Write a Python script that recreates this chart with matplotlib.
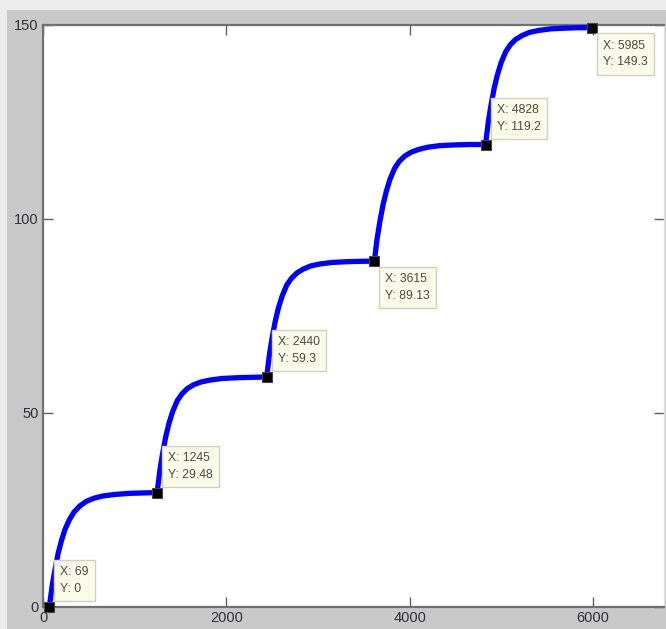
import matplotlib
matplotlib.use("Agg")
import matplotlib.pyplot as plt
from matplotlib.patches import Rectangle

# Cumulative response: five smooth steps, one per segment
step1_x = [69, 100, 130, 165, 200, 240, 290, 340, 400, 470, 550, 650, 780, 950, 1100, 1245]
step1_y = [0, 5.5, 9.5, 13.8, 17.0, 20.0, 22.6, 24.5, 26.0, 27.2, 28.0, 28.6, 29.0, 29.3, 29.4, 29.48]

step2_x = [1245, 1275, 1305, 1340, 1375, 1415, 1465, 1515, 1575, 1645, 1725, 1825, 1955, 2125, 2280, 2440]
step2_y = [29.48, 35.2, 39.6, 44.0, 47.4, 50.4, 53.2, 54.9, 56.3, 57.3, 58.0, 58.5, 58.9, 59.1, 59.2, 59.3]

step3_x = [2440, 2470, 2500, 2535, 2570, 2610, 2660, 2710, 2770, 2840, 2920, 3020, 3150, 3320, 3470, 3615]
step3_y = [59.3, 65.0, 69.4, 73.8, 77.2, 80.2, 83.0, 84.7, 86.1, 87.1, 87.9, 88.4, 88.8, 89.0, 89.1, 89.13]

step4_x = [3615, 3645, 3675, 3710, 3745, 3785, 3835, 3885, 3945, 4015, 4095, 4195, 4325, 4495, 4660, 4828]
step4_y = [89.13, 94.9, 99.3, 103.7, 107.1, 110.2, 113.0, 114.8, 116.2, 117.2, 117.9, 118.5, 118.9, 119.1, 119.2, 119.2]

step5_x = [4828, 4858, 4888, 4923, 4958, 4998, 5048, 5098, 5158, 5228, 5308, 5408, 5538, 5708, 5850, 5985]
step5_y = [119.2, 125.0, 129.4, 133.8, 137.2, 140.3, 143.1, 144.9, 146.3, 147.3, 148.1, 148.6, 149.0, 149.2, 149.3, 149.3]

# Data tips
tip_x = [69, 1245, 2440, 3615, 4828, 5985]
tip_y = [0, 29.48, 59.3, 89.13, 119.2, 149.3]
tip_labels_y = ["0", "29.48", "59.3", "89.13", "119.2", "149.3"]
tip_below = [False, False, False, True, False, True]

x_ticks = [0, 2000, 4000, 6000]
y_ticks = [0, 50, 100, 150]

fig = plt.figure(figsize=(6.66, 6.29), dpi=100, facecolor="#ececec")
# grey window background
fig.patches.append(Rectangle((7 / 666, 0), 1, 1 - 10 / 629, transform=fig.transFigure,
                             facecolor="#c9c9c9", edgecolor="none", zorder=-10))

ax = fig.add_axes([43 / 666, 22 / 629, 621 / 666, 582 / 629])
ax.set_zorder(1)
ax.set_facecolor("white")

xs = step1_x + step2_x[1:] + step3_x[1:] + step4_x[1:] + step5_x[1:]
ys = step1_y + step2_y[1:] + step3_y[1:] + step4_y[1:] + step5_y[1:]
ax.plot(xs, ys, color="#0000ff", lw=3.8, solid_capstyle="round", zorder=3)

ax.plot(tip_x, tip_y, linestyle="none", marker="s", markersize=7.5,
        markerfacecolor="black", markeredgecolor="#444444", markeredgewidth=0.8,
        zorder=5, clip_on=False)

for x, y, ylab, below in zip(tip_x, tip_y, tip_labels_y, tip_below):
    label = f"X: {x}\nY: {ylab}"
    if below:
        off, va = (8, -8.5), "top"
    else:
        off, va = (8, 8.5), "bottom"
    ax.annotate(label, (x, y), xytext=off, textcoords="offset points",
                ha="left", va=va, fontsize=8.8, family="Liberation Sans",
                color="#4a4a4a", linespacing=1.55, zorder=6, annotation_clip=False,
                bbox=dict(boxstyle="square,pad=0.5", facecolor="#fbfbe9",
                          edgecolor="#d2d2c0", linewidth=1.0))

ax.set_xlim(0, 6775)
ax.set_ylim(0, 150)
ax.set_xticks(x_ticks)
ax.set_yticks(y_ticks)
ax.set_xticklabels([str(t) for t in x_ticks])
ax.set_yticklabels([str(t) for t in y_ticks])

ax.tick_params(direction="in", length=7, width=1.0, color="#606060",
               top=True, right=True, labelsize=10.5, labelcolor="#30303c", pad=3)
for lab in ax.get_xticklabels() + ax.get_yticklabels():
    lab.set_family("Liberation Sans")

for side in ["left", "bottom", "top"]:
    ax.spines[side].set_color("#707070")
    ax.spines[side].set_linewidth(1.6)
ax.spines["right"].set_color("#e0e0e0")
ax.spines["right"].set_linewidth(1.0)

fig.savefig("out.png", dpi=100, facecolor=fig.get_facecolor())
